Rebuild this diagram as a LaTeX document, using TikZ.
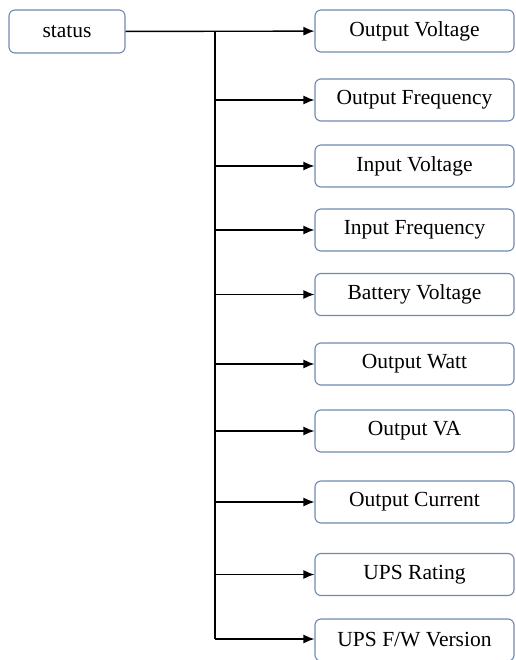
\documentclass[tikz,border=0pt]{standalone}
\usepackage{fontspec}
\setmainfont{Liberation Serif}
\usetikzlibrary{arrows.meta}
\definecolor{boxblue}{RGB}{110,138,178}

\begin{document}
\begin{tikzpicture}[x=1pt,y=-1pt,thick]
	\tikzset{item/.style={rectangle, rounded corners=6pt, draw=boxblue, line width=1.1pt, fill=white, inner sep=0pt, minimum width=199pt, minimum height=42pt, font=\fontsize{21.5}{25}\selectfont},
	         link/.style={line width=1.4pt, -{Latex[length=11pt,width=9pt]}}}
	\useasboundingbox (0,0) rectangle (515,660);

	%---NODES---
	\node[item, minimum width=116pt, minimum height=43pt] (0) at (67,31.5) {status};

	\node[item] (1)  at (414.5,31)  {Output Voltage};
	\node[item] (2)  at (414.5,100) {Output Frequency};
	\node[item] (3)  at (414.5,166) {Input Voltage};
	\node[item] (4)  at (414.5,230) {Input Frequency};
	\node[item] (5)  at (414.5,294.5) {Battery Voltage};
	\node[item] (6)  at (414.5,364) {Output Watt};
	\node[item] (7)  at (414.5,431) {Output VA};
	\node[item] (8)  at (414.5,502) {Output Current};
	\node[item] (9)  at (414.5,574.5) {UPS Rating};
	\node[item] (10) at (414.5,640) {UPS F/W Version};

	\coordinate (t) at (215,31);
	\coordinate (b) at (215,639);

	%---EDGES---
	\draw[link] (0) -- (1);
	\draw[line width=1.4pt] (t) -- (b);

	\draw[link] (2 -| t) -- (2);
	\draw[link] (3 -| t) -- (3);
	\draw[link] (4 -| t) -- (4);
	\draw[link] (5 -| t) -- (5);
	\draw[link] (6 -| t) -- (6);
	\draw[link] (7 -| t) -- (7);
	\draw[link] (8 -| t) -- (8);
	\draw[link] (9 -| t) -- (9);
	\draw[link] (b) -- (b -| 10.west);
\end{tikzpicture}
\end{document}
